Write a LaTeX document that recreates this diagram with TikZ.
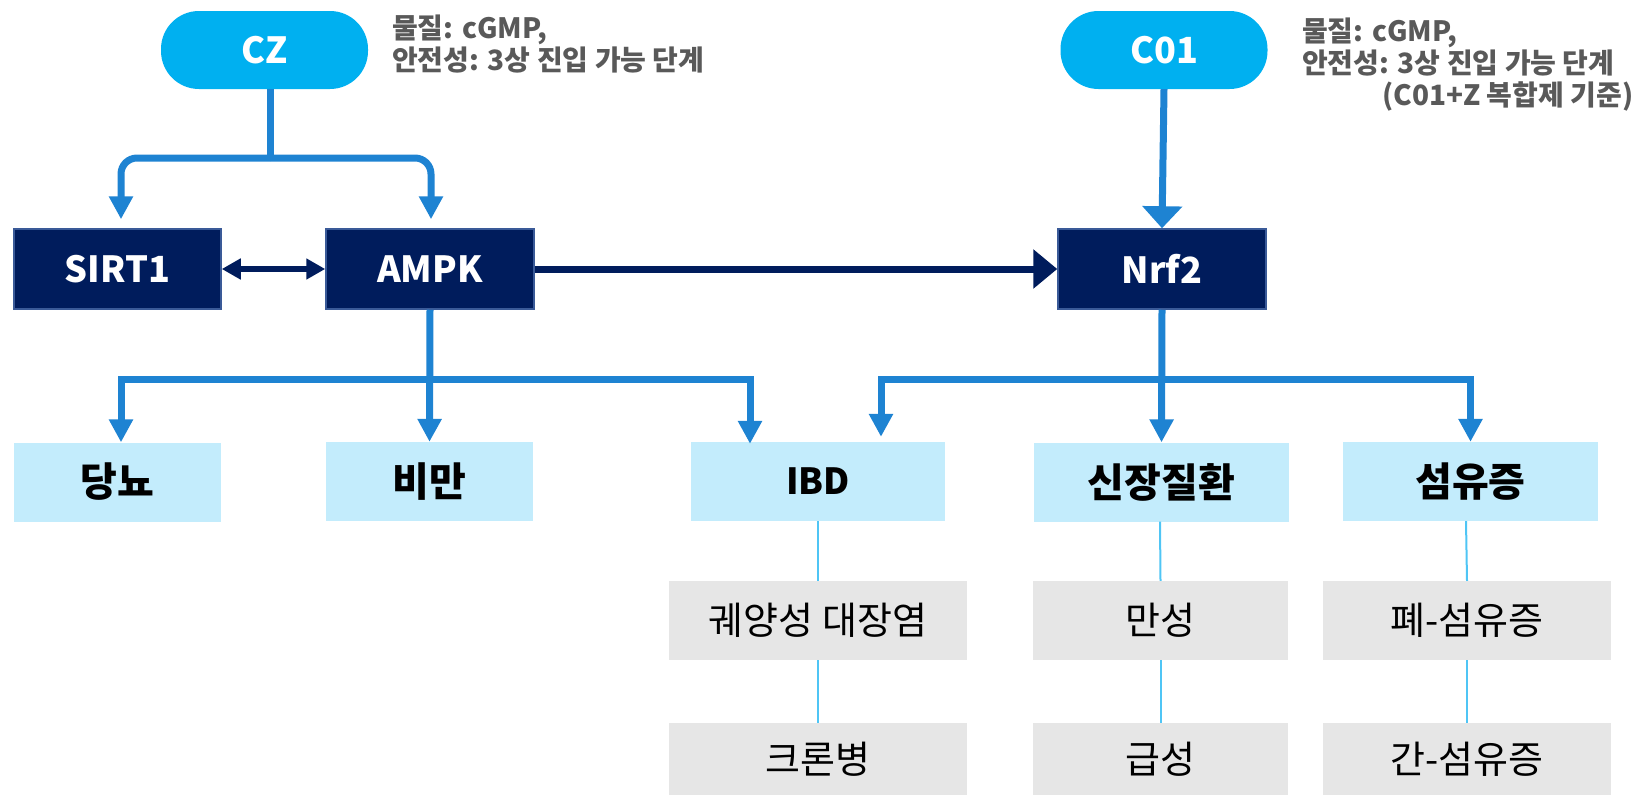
\documentclass[tikz,border=0pt]{standalone}
\usepackage{fontspec}
\setmainfont{Noto Sans CJK KR}
\usetikzlibrary{arrows.meta,calc}
\definecolor{cyanfill}{HTML}{00B0F0}
\definecolor{navy}{HTML}{001C5C}
\definecolor{navyedge}{HTML}{3A5A98}
\definecolor{lightbox}{HTML}{C3ECFC}
\definecolor{graybox}{HTML}{E6E6E6}
\definecolor{bconn}{HTML}{1E83D2}
\definecolor{thinconn}{HTML}{4FC5F5}
\definecolor{notegray}{HTML}{595959}
\tikzset{
  drug/.style={fill=cyanfill, rounded corners=38pt, minimum width=207pt, minimum height=78pt, inner sep=0pt, text=white, font=\fontsize{36}{40}\selectfont\bfseries},
  target/.style={fill=navy, draw=navyedge, line width=1.5pt, minimum width=207pt, minimum height=80pt, inner sep=0pt, text=white, font=\fontsize{36}{40}\selectfont\bfseries},
  disease/.style={fill=lightbox, minimum height=79pt, inner sep=0pt, text=black, font=\fontsize{40}{44}\selectfont\bfseries},
  subtype/.style={fill=graybox, inner sep=0pt, text=black, font=\fontsize{38}{42}\selectfont},
  note/.style={anchor=base west, inner sep=0pt, text=notegray, font=\fontsize{28}{32}\selectfont\bfseries},
  bline/.style={draw=bconn, line width=7pt},
  barrow/.style={bline, -{Triangle[width=23pt 0 0, length=23pt 0 0]}},
  thin/.style={draw=thinconn, line width=2pt},
}
\begin{document}
\begin{tikzpicture}[x=1pt,y=-1pt]
\useasboundingbox (0,0) rectangle (1652,795);

% top drugs
\node[drug] (cz) at (264.5,50) {CZ};
\node[drug] (c01) at (1164,50) {C01};

% notes
\node[note] (n1a) at (392,38) {물질: cGMP,};
\node[note] (n1b) at (392,70) {안전성: 3상 진입 가능 단계};
\node[note] (n2a) at (1302,41) {물질: cGMP,};
\node[note] (n2b) at (1302,73) {안전성: 3상 진입 가능 단계};
\node[note] (n2c) at (1382,105) {(C01+Z 복합제 기준)};

% targets
\node[target] (sirt1) at (117.5,269) {SIRT1};
\node[target, minimum width=208pt] (ampk) at (430,269) {AMPK};
\node[target, minimum width=208pt] (nrf2) at (1162,269) {Nrf2};

% diseases
\node[disease, minimum width=207pt] (dm) at (117.5,482) {당뇨};
\node[disease, minimum width=207pt] (ob) at (429.5,481.5) {비만};
\node[disease, minimum width=254pt, font=\fontsize{36}{40}\selectfont\bfseries] (ibd) at (818,481.5) {IBD};
\node[disease, minimum width=255pt] (kd) at (1161.5,482) {신장질환};
\node[disease, minimum width=255pt] (fib) at (1470.5,481.5) {섬유증};

% subtypes
\node[subtype, minimum width=298pt, minimum height=79pt] (uc) at (818,620.5) {궤양성 대장염};
\node[subtype, minimum width=298pt, minimum height=72pt] (cd) at (818,759) {크론병};
\node[subtype, minimum width=255pt, minimum height=79pt] (chr) at (1160.5,620.5) {만성};
\node[subtype, minimum width=255pt, minimum height=72pt] (acu) at (1160.5,759) {급성};
\node[subtype, minimum width=288pt, minimum height=79pt] (lf) at (1467,620.5) {폐-섬유증};
\node[subtype, minimum width=288pt, minimum height=72pt] (hf) at (1467,759) {간-섬유증};

% CZ split
\coordinate (czs) at (270,158);
\draw[bline] (cz.south -| czs) -- (czs);
\draw[barrow, rounded corners=16pt, shorten >=9pt] (czs) -| ([xshift=3.5pt]sirt1.north);
\draw[barrow, rounded corners=16pt, shorten >=9pt] (czs) -| ([xshift=1pt]ampk.north);

% C01 -> Nrf2
\draw[bline, -{Triangle[width=39pt 0 0, length=22pt 0 0]}] (c01.south) -- (nrf2.north);

% SIRT1 <-> AMPK
\draw[draw=navy, line width=6pt, {Triangle[width=20pt 0 0, length=19pt 0 0]}-{Triangle[width=20pt 0 0, length=19pt 0 0]}] (sirt1.east) -- (ampk.west);

% AMPK -> Nrf2
\draw[draw=navy, line width=7pt, -{Triangle[width=38pt 0 0, length=24pt 0 0]}] (ampk.east) -- (nrf2.west);

% AMPK branches
\coordinate (ab) at (430,379);
\draw[barrow] (ampk.south) -- (ob.north);
\draw[barrow] (ab) -| ([xshift=3.5pt]dm.north);
\draw[barrow, shorten >=-2pt] (ab) -| ([xshift=-68pt]ibd.north);

% Nrf2 branches
\coordinate (nb) at (1162,379);
\draw[barrow] (nrf2.south) -- (kd.north);
\draw[barrow, shorten >=5pt] (nb) -| ([xshift=63pt]ibd.north);
\draw[barrow] (nb) -| (fib.north);

% thin links
\draw[thin] (ibd.south) -- (uc.north);
\draw[thin] (uc.south) -- (cd.north);
\draw[thin] ([xshift=-1.5pt]kd.south) -- (chr.north);
\draw[thin] (chr.south) -- (acu.north);
\draw[thin] ([xshift=-4.5pt]fib.south) -- (lf.north);
\draw[thin] (lf.south) -- (hf.north);
\end{tikzpicture}
\end{document}
